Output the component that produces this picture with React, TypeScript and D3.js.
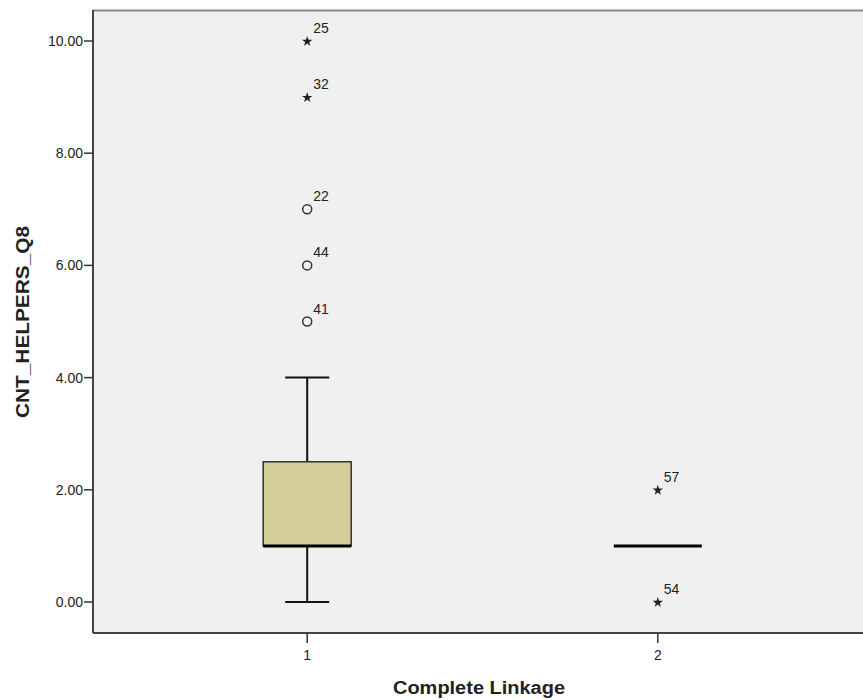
import * as d3 from 'd3';
import { useEffect, useRef } from 'react';

// chart values
const categories = ['1', '2'];
const q1 = [1, 1];
const median = [1, 1];
const q3 = [2.5, 1];
const whiskerLow = [0, 1];
const whiskerHigh = [4, 1];

const outlierGroup = ['1', '1', '1', '1', '1', '2', '2'];
const outlierValue = [10, 9, 7, 6, 5, 2, 0];
const outlierCase = ['25', '32', '22', '44', '41', '57', '54'];
const outlierKind = ['extreme', 'extreme', 'mild', 'mild', 'mild', 'extreme', 'extreme'];

const yTicks = [0, 2, 4, 6, 8, 10];

const App = () => {
  const svgRef = useRef(null);

  useEffect(() => {
    const width = 863;
    const height = 700;
    const left = 93;
    const right = 872;
    const top = 10;
    const bottom = 633;

    const svg = d3.select(svgRef.current)
      .attr('width', width)
      .attr('height', height);

    const font = 'Arial, "Liberation Sans", sans-serif';

    const y = d3.scaleLinear().domain([0, 10]).range([602, 41]);
    const x = d3.scalePoint().domain(categories).range([left, right]).padding(0.611);

    // plot background
    svg.append('rect')
      .attr('x', left).attr('y', top)
      .attr('width', right - left).attr('height', bottom - top)
      .attr('fill', '#f0f0f0');

    // frame
    svg.append('line')
      .attr('x1', left).attr('x2', right).attr('y1', top + 0.5).attr('y2', top + 0.5)
      .attr('stroke', '#888').attr('stroke-width', 2);
    svg.append('line')
      .attr('x1', left).attr('x2', left).attr('y1', top).attr('y2', bottom)
      .attr('stroke', '#444').attr('stroke-width', 2);
    svg.append('line')
      .attr('x1', left).attr('x2', right).attr('y1', bottom).attr('y2', bottom)
      .attr('stroke', '#444').attr('stroke-width', 2);

    // y axis
    const yAxis = svg.append('g');
    yTicks.forEach((t) => {
      yAxis.append('line')
        .attr('x1', left - 9).attr('x2', left).attr('y1', y(t)).attr('y2', y(t))
        .attr('stroke', '#333').attr('stroke-width', 1.5);
      yAxis.append('text')
        .attr('x', left - 10).attr('y', y(t)).attr('dy', '0.36em')
        .attr('text-anchor', 'end')
        .attr('font-family', font).attr('font-size', 14).attr('fill', '#222')
        .text(d3.format('.2f')(t));
    });

    // x axis
    categories.forEach((c) => {
      svg.append('line')
        .attr('x1', x(c)).attr('x2', x(c)).attr('y1', bottom).attr('y2', bottom + 10)
        .attr('stroke', '#333').attr('stroke-width', 1.5);
      svg.append('text')
        .attr('x', x(c)).attr('y', bottom + 27)
        .attr('text-anchor', 'middle')
        .attr('font-family', font).attr('font-size', 14).attr('fill', '#222')
        .text(c);
    });

    // titles
    svg.append('text')
      .attr('transform', `translate(29, 322) rotate(-90)`)
      .attr('text-anchor', 'middle')
      .attr('font-family', font).attr('font-size', 18).attr('font-weight', 'bold').attr('fill', '#222')
      .attr('textLength', 192).attr('lengthAdjust', 'spacingAndGlyphs')
      .text('CNT_HELPERS_Q8');
    svg.append('text')
      .attr('x', 479).attr('y', 694)
      .attr('text-anchor', 'middle')
      .attr('font-family', font).attr('font-size', 18).attr('font-weight', 'bold').attr('fill', '#222')
      .attr('textLength', 172).attr('lengthAdjust', 'spacingAndGlyphs')
      .text('Complete Linkage');

    // boxes
    const boxW = 88;
    categories.forEach((c, i) => {
      const cx = x(c);
      if (whiskerHigh[i] > q3[i]) {
        svg.append('line')
          .attr('x1', cx).attr('x2', cx).attr('y1', y(q3[i])).attr('y2', y(whiskerHigh[i]))
          .attr('stroke', '#111').attr('stroke-width', 2);
        svg.append('line')
          .attr('x1', cx - boxW / 4).attr('x2', cx + boxW / 4)
          .attr('y1', y(whiskerHigh[i])).attr('y2', y(whiskerHigh[i]))
          .attr('stroke', '#111').attr('stroke-width', 2);
      }
      if (whiskerLow[i] < q1[i]) {
        svg.append('line')
          .attr('x1', cx).attr('x2', cx).attr('y1', y(q1[i])).attr('y2', y(whiskerLow[i]))
          .attr('stroke', '#111').attr('stroke-width', 2);
        svg.append('line')
          .attr('x1', cx - boxW / 4).attr('x2', cx + boxW / 4)
          .attr('y1', y(whiskerLow[i])).attr('y2', y(whiskerLow[i]))
          .attr('stroke', '#111').attr('stroke-width', 2);
      }
      if (q3[i] > q1[i]) {
        svg.append('rect')
          .attr('x', cx - boxW / 2).attr('y', y(q3[i]))
          .attr('width', boxW).attr('height', y(q1[i]) - y(q3[i]))
          .attr('fill', '#d3ce97').attr('stroke', '#333').attr('stroke-width', 1.5);
      }
      svg.append('line')
        .attr('x1', cx - boxW / 2).attr('x2', cx + boxW / 2)
        .attr('y1', y(median[i])).attr('y2', y(median[i]))
        .attr('stroke', '#000').attr('stroke-width', 3);
    });

    // outliers
    const star = d3.symbol().type(d3.symbolStar).size(34);
    outlierValue.forEach((v, i) => {
      const cx = x(outlierGroup[i]);
      const cy = y(v);
      if (outlierKind[i] === 'mild') {
        svg.append('circle')
          .attr('cx', cx).attr('cy', cy).attr('r', 4.5)
          .attr('fill', 'none').attr('stroke', '#333').attr('stroke-width', 1.5);
      } else {
        svg.append('path')
          .attr('d', star())
          .attr('transform', `translate(${cx},${cy + 0.5})`)
          .attr('fill', '#222');
      }
      svg.append('text')
        .attr('x', cx + 6).attr('y', cy - 8)
        .attr('font-family', font).attr('font-size', 14).attr('fill', '#222')
        .text(outlierCase[i]);
    });

    return () => {
      svg.selectAll('*').remove();
    };
  }, []);

  return <svg ref={svgRef} style={{ position: 'absolute', left: 0, top: 0, background: '#fff' }} />;
};

export default App;
